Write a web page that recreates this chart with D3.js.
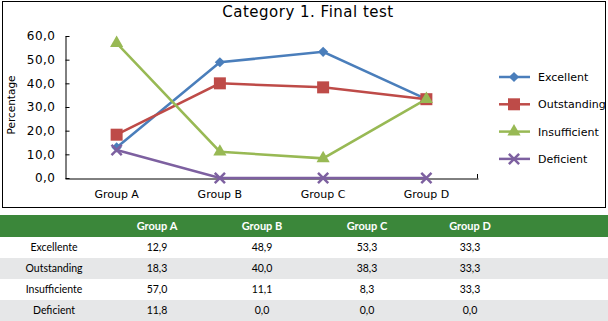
<!DOCTYPE html>
<html>
<head>
<meta charset="utf-8">
<script src="https://cdn.jsdelivr.net/npm/d3@7"></script>
<style>
  body { margin: 0; background: #fff; }
  svg { font-family: "DejaVu Sans", sans-serif; }
  .tbl text { font-family: "Lato", "Open Sans", sans-serif; }
</style>
</head>
<body>
<div id="chart"></div>
<script>
// Data
const groups = ['Group A', 'Group B', 'Group C', 'Group D'];
const seriesNames = ['Excellent', 'Outstanding', 'Insufficient', 'Deficient'];
const rowLabels = ['Excellente', 'Outstanding', 'Insufficiente', 'Deficient'];
const excellent = [12.9, 48.9, 53.3, 33.3];
const outstanding = [18.3, 40.0, 38.3, 33.3];
const insufficient = [57.0, 11.1, 8.3, 33.3];
const deficient = [11.8, 0.0, 0.0, 0.0];
const yTicks = [0, 10, 20, 30, 40, 50, 60];

const seriesValues = [excellent, outstanding, insufficient, deficient];
const colors = ['#4a7ebb', '#be4b48', '#98b954', '#7d60a0'];
// diamond = square turned 45 degrees
const symbols = [d3.symbolSquare, d3.symbolSquare, d3.symbolTriangle, d3.symbolX];
const symbolSizes = [52, 144, 75, 70];
const symbolRotate = [45, 0, 0, 0];

const width = 608, height = 321;
const fmt = v => d3.format('.1f')(v).replace('.', ',');

const svg = d3.select('#chart').append('svg')
    .attr('width', width)
    .attr('height', height);

// Chart frame
svg.append('rect')
    .attr('x', 2.5).attr('y', 1.5)
    .attr('width', 603).attr('height', 206)
    .attr('fill', 'none')
    .attr('stroke', '#000')
    .attr('stroke-width', 1);

svg.append('text')
    .attr('x', 308).attr('y', 17)
    .attr('text-anchor', 'middle')
    .attr('font-size', 15)
    .attr('letter-spacing', 0.5)
    .text('Category 1. Final test');

// Scales
const x = d3.scaleBand().domain(groups).range([65, 478]);
const y = d3.scaleLinear().domain([0, 60]).range([178, 36]);
const cx = d => x(d) + x.bandwidth() / 2;

// Y axis
const yAxis = svg.append('g')
    .attr('transform', 'translate(65.5,0)')
    .call(d3.axisLeft(y).tickValues(yTicks).tickSizeInner(-4).tickSizeOuter(0).tickFormat(fmt));
yAxis.select('.domain').attr('stroke', '#000');
yAxis.selectAll('.tick line').attr('stroke', '#000');
yAxis.selectAll('.tick text')
    .attr('x', -10)
    .attr('font-size', 12)
    .attr('letter-spacing', 0.5)
    .attr('font-family', '"DejaVu Sans", sans-serif')
    .attr('fill', '#000');

// X axis
const xAxis = svg.append('g')
    .attr('transform', 'translate(0,178.5)')
    .call(d3.axisBottom(x).tickSize(0).tickPadding(12));
xAxis.select('.domain').attr('stroke', '#000');
xAxis.selectAll('.tick text')
    .attr('font-size', 11)
    .attr('font-family', '"DejaVu Sans", sans-serif')
    .attr('fill', '#000');
svg.append('line')
    .attr('x1', 477.5).attr('x2', 477.5)
    .attr('y1', 174).attr('y2', 178.5)
    .attr('stroke', '#000');

svg.append('text')
    .attr('transform', 'translate(15,105) rotate(-90)')
    .attr('text-anchor', 'middle')
    .attr('font-size', 10.5)
    .text('Percentage');

// Lines
const line = d3.line().x((d, i) => cx(groups[i])).y(d => y(d));

seriesValues.forEach((vals, s) => {
    svg.append('path')
        .datum(vals)
        .attr('d', line)
        .attr('fill', 'none')
        .attr('stroke', colors[s])
        .attr('stroke-width', 2.5);
});

function marker(sel, s) {
    sel.attr('d', d3.symbol().type(symbols[s]).size(symbolSizes[s]))
        .attr('fill', colors[s])
        .attr('stroke', s === 3 ? colors[s] : 'none')
        .attr('stroke-width', 2.5);
}

seriesValues.forEach((vals, s) => {
    svg.append('g').selectAll('path')
        .data(vals)
        .enter()
        .append('path')
        .attr('transform', (d, i) => `translate(${cx(groups[i])},${y(d)}) rotate(${symbolRotate[s]})`)
        .call(marker, s);
});

// Legend
const legend = svg.append('g');
seriesNames.forEach((name, s) => {
    const ly = 77 + s * 27.3;
    legend.append('line')
        .attr('x1', 499).attr('x2', 530)
        .attr('y1', ly).attr('y2', ly)
        .attr('stroke', colors[s])
        .attr('stroke-width', 2.5);
    legend.append('path')
        .attr('transform', `translate(514,${ly}) rotate(${symbolRotate[s]})`)
        .call(marker, s);
    legend.append('text')
        .attr('x', 538).attr('y', ly + 4)
        .attr('font-size', 11)
        .text(name);
});

// Table
const tbl = svg.append('g').attr('class', 'tbl');
const colX = [54, 157, 262, 367, 470];
tbl.append('rect')
    .attr('x', 0).attr('y', 215)
    .attr('width', width).attr('height', 22)
    .attr('fill', '#3b873a');
groups.forEach((g, i) => {
    tbl.append('text')
        .attr('x', colX[i + 1]).attr('y', 230)
        .attr('text-anchor', 'middle')
        .attr('font-size', 11)
        .attr('font-weight', 'bold')
        .attr('fill', '#fff')
        .text(g);
});
rowLabels.forEach((label, r) => {
    const ry = 237 + r * 21;
    tbl.append('rect')
        .attr('x', 0).attr('y', ry)
        .attr('width', width).attr('height', 21)
        .attr('fill', r % 2 === 1 ? '#e6e7e8' : '#fff');
    tbl.append('text')
        .attr('x', colX[0]).attr('y', ry + 14)
        .attr('text-anchor', 'middle')
        .attr('font-size', 10.5)
        .text(label);
    seriesValues[r].forEach((v, i) => {
        tbl.append('text')
            .attr('x', colX[i + 1]).attr('y', ry + 14)
            .attr('text-anchor', 'middle')
            .attr('font-size', 10.5)
            .text(fmt(v));
    });
});
</script>
</body>
</html>
